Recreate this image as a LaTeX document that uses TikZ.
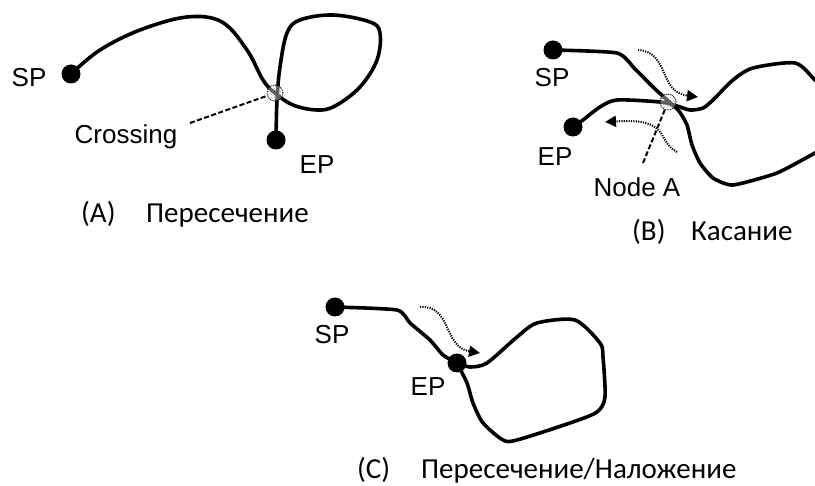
\documentclass[tikz,border=0pt]{standalone}
\usepackage{fontspec}
\setmainfont{Liberation Sans}
\newfontfamily\capfont{Carlito}
\usetikzlibrary{arrows.meta,patterns}
\begin{document}
\begin{tikzpicture}[x=1pt,y=-1pt,
 curve/.style={line width=3.6pt, line join=round, line cap=round},
 dotpt/.style={circle, fill=black, inner sep=0pt, minimum size=19pt},
 lbl/.style={font=\fontsize{26}{30}\selectfont, inner sep=0pt},
 captxt/.style={font=\capfont\fontsize{29}{33}\selectfont, inner sep=0pt, anchor=base west},
 flow/.style={dash pattern=on 1.2pt off 1.2pt, line width=2pt, -{Triangle[length=11pt,width=11pt]}},
 lead/.style={dash pattern=on 5pt off 2.5pt, line width=2pt},
 hatch/.style={circle, draw, densely dotted, line width=0.9pt, minimum size=16pt, inner sep=0pt,
   fill=white, fill opacity=0.4, draw opacity=1, postaction={pattern=crosshatch dots, pattern color=black}}]
\useasboundingbox (0,0) rectangle (815,486);
\begin{scope}
\clip (0,0) rectangle (815,486);
% ---------- Panel A ----------
\node[dotpt] (spA) at (71,74) {};
\node[dotpt] (epA) at (276,140) {};
\draw[curve] plot[smooth, tension=0.6] coordinates {(spA) (100,50) (140,30) (187,17) (222,22) (247,50) (263,80) (275,93) (293,105) (317,110) (335,106) (360,87) (377,60) (380,33) (370,22) (333,15) (300,20) (287,33) (280,67) (277,100) (epA)};
\node[hatch] (xA) at (275,93) {};
\node[lbl] (spAl) at (29,78) {SP};
\node[lbl] (epAl) at (317,165) {EP};
\node[lbl] (cA) at (126,137) {Crossing};
\coordinate (cAe) at (190,123);
\draw[lead] (cAe) -- (xA);
\node[captxt] (capA1) at (81,223) {(A)};
\node[captxt] (capA2) at (146,223) {Пересечение};
% ---------- Panel B ----------
\node[dotpt] (spB) at (553,50) {};
\node[dotpt] (epB) at (573,127) {};
\draw[curve] plot[smooth, tension=0.35] coordinates {(spB) (617,53) (635,69) (653,87) (667,100) (679,111) (687,125) (692,145) (700,163) (713,178) (733,185) (777,173) (815,153) (835,143)};
\draw[curve] plot[smooth, tension=0.45] coordinates {(835,100) (815,80) (795,63) (753,68) (733,80) (713,100) (703,108) (690,110) (677,106) (660,102) (617,100) (600,107) (583,120) (epB)};
\node[hatch] (nA) at (668,102) {};
\draw[flow] (638,50) .. controls (670,52) and (658,92) .. (698,97);
\draw[flow] (677,152) .. controls (655,140) and (672,118) .. (605,122);
\coordinate (nAl) at (643,163);
\draw[lead] (nA) -- (nAl);
\node[lbl] (nAt) at (637,187) {Node A};
\node[lbl] (spBl) at (552,78) {SP};
\node[lbl] (epBl) at (555,157) {EP};
\node[captxt] (capB1) at (632,241) {(B)};
\node[captxt] (capB2) at (691,241) {Касание};
% ---------- Panel C ----------
\node[dotpt] (spC) at (335,307) {};
\node[dotpt] (epC) at (457,363) {};
\draw[curve] plot[smooth, tension=0.35] coordinates {(spC) (397,310) (410,323) (430,340) (443,355) (epC)};
\draw[curve] plot[smooth, tension=0.45] coordinates {(epC) (470,367) (487,363) (517,337) (537,323) (575,320) (600,343) (603,357) (605,397) (597,412) (570,423) (517,440) (503,440) (483,423) (473,403) (467,383) (epC)};
\draw[flow] (420,307) .. controls (452,305) and (443,347) .. (480,353);
\node[lbl] (spCl) at (332,335) {SP};
\node[lbl] (epCl) at (428,387) {EP};
\node[captxt] (capC1) at (357,479) {(C)};
\node[captxt] (capC2) at (421,479) {Пересечение/Наложение};
\end{scope}
\end{tikzpicture}
\end{document}
